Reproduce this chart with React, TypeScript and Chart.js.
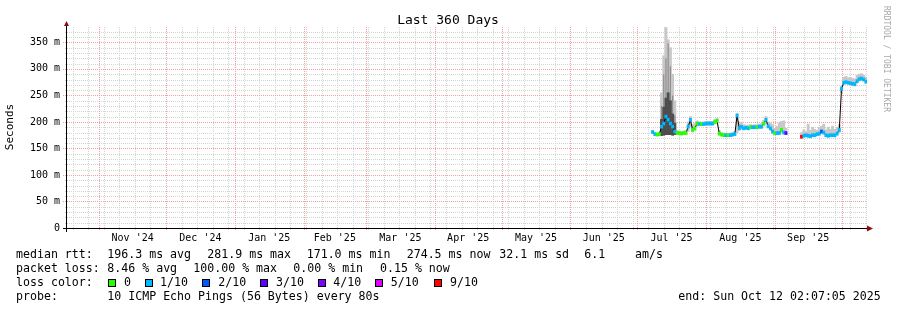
import React, { useEffect, useRef } from 'react';
import { Chart, registerables } from 'chart.js';

Chart.register(...registerables);

// ---------------- data ----------------
const TITLE = 'Last 360 Days';
const Y_TITLE = 'Seconds';
const CREDIT = 'RRDTOOL / TOBI OETIKER';

const END_TIME = '2025-10-12T11:17:00Z';
const SPAN_DAYS = 360;
const FIRST_DATA_DAY = '2025-07-08';

// daily median round-trip time (ms)
const medianMs = [
  181, 177, 176, 177, 191, 197, 210, 204, 197, 191,
  182, 179, 179, 178, 179, 179, 191, 204, 185, 188,
  197, 196, 196, 196, 197, 197, 197, 197, 200, 202,
  178, 176, 175, 175, 175, 175, 176, 177, 212, 188,
  191, 188, 189, 188, 190, 190, 190, 190, 191, 191,
  197, 204, 192, 188, 182, 179, 179, 179, 185, 180,
  179, null, null, null, null, null, null, 172, 174, 175,
  174, 173, 175, 175, 177, 178, 182, 180, 175, 174,
  175, 175, 175, 178, 185, 262, 274, 275, 274, 273,
  272, 271, 277, 281, 282, 280, 276,
];

// lost pings out of 10, per day
const lossCount = [
  1, 1, 0, 0, 1, 1, 1, 1, 1, 1,
  1, 0, 0, 0, 0, 0, 1, 1, 0, 0,
  0, 1, 0, 1, 1, 1, 1, 1, 0, 0,
  0, 0, 0, 1, 0, 1, 1, 1, 1, 1,
  1, 1, 1, 1, 0, 1, 1, 0, 1, 1,
  0, 1, 1, 1, 1, 0, 1, 1, 0, 1,
  3, null, null, null, null, null, null, 9, 1, 1,
  1, 1, 1, 1, 1, 1, 2, 1, 1, 1,
  1, 1, 1, 1, 1, 1, 1, 1, 1, 1,
  1, 1, 1, 1, 1, 1, 1,
];

// smoke: lowest and highest ping per day (ms)
const smokeLoMs = [
  179, 175, 174, 175, 174, 175, 176, 176, 176, 175,
  176, 177, 177, 176, 177, 177, 182, 190, 181, 184,
  192, 193, 193, 193, 194, 194, 194, 194, 196, 198,
  175, 174, 173, 173, 173, 173, 174, 175, 180, 184,
  186, 185, 186, 185, 187, 187, 187, 187, 188, 188,
  192, 196, 188, 184, 178, 176, 176, 176, 180, 177,
  176, null, null, null, null, null, null, 170, 171, 172,
  171, 170, 172, 172, 174, 175, 178, 177, 172, 171,
  172, 172, 172, 175, 180, 255, 271, 272, 271, 270,
  269, 268, 273, 277, 278, 277, 273,
];
const smokeHiMs = [
  184, 180, 179, 180, 255, 325, 378, 355, 340, 290,
  240, 184, 183, 182, 183, 184, 200, 210, 195, 198,
  202, 200, 200, 200, 201, 201, 201, 201, 205, 207,
  184, 180, 179, 179, 179, 179, 180, 182, 216, 200,
  198, 195, 194, 194, 195, 194, 195, 195, 196, 197,
  203, 210, 200, 198, 195, 188, 192, 198, 201, 202,
  188, null, null, null, null, null, null, 180, 185, 182,
  196, 184, 190, 186, 184, 190, 192, 196, 185, 190,
  186, 192, 186, 190, 195, 268, 284, 286, 283, 284,
  282, 281, 288, 290, 291, 288, 284,
];
// inner smoke layers during the July burst
const CORE_FIRST_DAY = '2025-07-12';
const smokeMidMs = [230, 290, 320, 348, 305, 250, 212];
const smokeDenseMs = [205, 228, 245, 255, 240, 215, 198];

const monthStarts = [
  '2024-11-01', '2024-12-01', '2025-01-01', '2025-02-01', '2025-03-01', '2025-04-01',
  '2025-05-01', '2025-06-01', '2025-07-01', '2025-08-01', '2025-09-01', '2025-10-01',
];
const monthLabels = ["Nov '24", "Dec '24", "Jan '25", "Feb '25", "Mar '25", "Apr '25", "May '25", "Jun '25", "Jul '25", "Aug '25", "Sep '25"];
const FIRST_WEEK_LINE = '2024-10-20';
const yTickValues = [0, 50, 100, 150, 200, 250, 300, 350];
const Y_MAX = 379;

const lossLegendLabels = ['0', '1/10', '2/10', '3/10', '4/10', '5/10', '9/10'];
const lossLegendCounts = [0, 1, 2, 3, 4, 5, 9];
const lossLegendColors = ['#26ff00', '#00b8ff', '#0059ff', '#5e00ff', '#7e00ff', '#dd00ff', '#ff0000'];

const rttStats = ['196.3 ms avg', '281.9 ms max', '171.0 ms min', '274.5 ms now', '32.1 ms sd', '6.1', 'am/s'];
const lossStats = ['8.46 % avg', '100.00 % max', '0.00 % min', '0.15 % now'];
const probeText = '10 ICMP Echo Pings (56 Bytes) every 80s';
const endText = 'end: Sun Oct 12 02:07:05 2025';

// ---------------- helpers ----------------
const FONT = '"DejaVu Sans Mono", monospace';
const ORIGIN_MS = Date.UTC(2024, 10, 1);
function dayOf(s: string): number {
  const t = Date.parse(s.length === 10 ? s + 'T00:00:00Z' : s);
  return (t - ORIGIN_MS) / 86400000;
}
function lossColor(c: number): string {
  let idx = 0;
  for (let i = 0; i < lossLegendCounts.length; i++) if (c >= lossLegendCounts[i]) idx = i;
  return lossLegendColors[idx];
}

const MINOR_GRID = '#d4d4d4';
const MAJOR_GRID = '#f2a0a0';
const ARROW = '#8a1010';

const decorPlugin = {
  id: 'decor',
  beforeDatasetsDraw(chart: any) {
    const { ctx, chartArea: a } = chart;
    const x = chart.scales.x;
    const y = chart.scales.y;
    const seg = (x1: number, y1: number, x2: number, y2: number) => {
      ctx.beginPath();
      ctx.moveTo(x1, y1);
      ctx.lineTo(x2, y2);
      ctx.stroke();
    };
    ctx.save();
    ctx.lineWidth = 1;
    ctx.setLineDash([1, 1]);
    ctx.strokeStyle = MINOR_GRID;
    for (let v = 10; v <= y.max; v += 10) {
      if (v % 50 === 0) continue;
      const py = Math.round(y.getPixelForValue(v)) + 0.5;
      seg(a.left - 2, py, a.right, py);
    }
    for (let d = dayOf(FIRST_WEEK_LINE); d <= x.max; d += 7) {
      if (d < x.min) continue;
      const px = Math.round(x.getPixelForValue(d)) + 0.5;
      seg(px, a.top, px, a.bottom + 2);
    }
    ctx.strokeStyle = MAJOR_GRID;
    for (let v = 50; v <= y.max; v += 50) {
      const py = Math.round(y.getPixelForValue(v)) + 0.5;
      seg(a.left - 4, py, a.right, py);
    }
    for (const m of monthStarts) {
      const d = dayOf(m);
      if (d < x.min || d > x.max) continue;
      const px = Math.round(x.getPixelForValue(d)) + 0.5;
      seg(px, a.top, px, a.bottom + 3);
    }
    ctx.restore();
  },
  afterDatasetsDraw(chart: any) {
    const { ctx, chartArea: a } = chart;
    ctx.save();
    ctx.setLineDash([]);
    ctx.lineWidth = 1;
    ctx.strokeStyle = '#000';
    ctx.beginPath();
    ctx.moveTo(a.left - 4, a.bottom + 0.5);
    ctx.lineTo(a.right, a.bottom + 0.5);
    ctx.moveTo(a.left - 0.5, a.bottom + 4);
    ctx.lineTo(a.left - 0.5, a.top - 1);
    ctx.stroke();
    ctx.fillStyle = ARROW;
    ctx.beginPath();
    ctx.moveTo(a.left - 3, a.top - 1);
    ctx.lineTo(a.left + 2, a.top - 1);
    ctx.lineTo(a.left - 0.5, a.top - 6);
    ctx.closePath();
    ctx.fill();
    ctx.beginPath();
    ctx.moveTo(a.right, a.bottom - 2.5);
    ctx.lineTo(a.right, a.bottom + 3.5);
    ctx.lineTo(a.right + 6, a.bottom + 0.5);
    ctx.closePath();
    ctx.fill();
    ctx.restore();
  },
  afterDraw(chart: any) {
    const { ctx } = chart;
    ctx.save();
    ctx.fillStyle = '#000';
    ctx.textBaseline = 'alphabetic';
    // title
    ctx.font = `13px ${FONT}`;
    ctx.textAlign = 'center';
    ctx.fillText(TITLE, 448, 24);
    // y title
    ctx.save();
    ctx.translate(10, 127);
    ctx.rotate(-Math.PI / 2);
    ctx.font = `11px ${FONT}`;
    ctx.textBaseline = 'middle';
    ctx.fillText(Y_TITLE, 0, 0);
    ctx.restore();
    // credit
    ctx.save();
    ctx.translate(886, 59);
    ctx.rotate(Math.PI / 2);
    ctx.font = `8px ${FONT}`;
    ctx.fillStyle = '#a8a8a8';
    ctx.textBaseline = 'middle';
    ctx.fillText(CREDIT, 0, 0);
    ctx.restore();
    // legend
    ctx.textAlign = 'left';
    ctx.font = `11.6px ${FONT}`;
    ctx.fillText('median rtt:', 16, 258);
    const rttX = [107.3, 207.3, 306.7, 406.7, 499.3, 584.3, 635];
    rttStats.forEach((t, i) => ctx.fillText(t, rttX[i], 258));
    ctx.fillText('packet loss:', 16, 272);
    const lossX = [107.3, 193.3, 293.3, 380];
    lossStats.forEach((t, i) => ctx.fillText(t, lossX[i], 272));
    ctx.fillText('loss color:', 16, 286);
    const boxX = [108.5, 145.5, 202.5, 260.5, 318.5, 375.5, 434.5];
    const labX = [124, 160, 218.3, 276, 333.3, 390.7, 450];
    lossLegendLabels.forEach((t, i) => {
      ctx.fillStyle = lossLegendColors[i];
      ctx.fillRect(boxX[i], 279.5, 7, 7);
      ctx.strokeStyle = '#000';
      ctx.lineWidth = 1;
      ctx.strokeRect(boxX[i], 279.5, 7, 7);
      ctx.fillStyle = '#000';
      ctx.fillText(t, labX[i], 286);
    });
    ctx.fillText('probe:', 16, 300);
    ctx.fillText(probeText, 107.3, 300);
    ctx.fillText(endText, 678.3, 300);
    ctx.restore();
  },
};

export default function App() {
  const ref = useRef<HTMLCanvasElement>(null);
  useEffect(() => {
    const canvas = ref.current;
    if (!canvas) return;
    const xMax = dayOf(END_TIME);
    const xMin = xMax - SPAN_DAYS;
    const d0 = dayOf(FIRST_DATA_DAY);
    const xs = medianMs.map((_, i) => d0 + i);

    const smokeData: any[] = [];
    xs.forEach((x, i) => {
      const lo = smokeLoMs[i];
      const hi = smokeHiMs[i];
      if (lo != null && hi != null) smokeData.push({ x, y: [lo, hi] });
    });
    const c0 = dayOf(CORE_FIRST_DAY);
    const layer = (arr: number[]) =>
      arr.map((hi, i) => {
        const idx = Math.round(c0 + i - d0);
        return { x: c0 + i, y: [smokeLoMs[idx] as number, hi] };
      });
    const midData = layer(smokeMidMs);
    const denseData = layer(smokeDenseMs);
    const lineData = xs.map((x, i) => ({ x, y: medianMs[i] }));
    const markData: any[] = [];
    xs.forEach((x, i) => {
      const m = medianMs[i];
      const c = lossCount[i];
      if (m != null && c != null) markData.push({ x, y: [m - 2.8, m + 2.8], c });
    });
    const labelDays = monthLabels.map((_, i) => (dayOf(monthStarts[i]) + dayOf(monthStarts[i + 1])) / 2);

    const barBase = { borderWidth: 0, grouped: false, barPercentage: 1, categoryPercentage: 1 };

    const chart = new Chart(canvas, {
      type: 'bar',
      data: {
        datasets: [
          {
            type: 'bar',
            label: 'loss',
            data: markData,
            backgroundColor: (c: any) => lossColor(c.raw ? c.raw.c : 0),
            ...barBase,
            order: 0,
          } as any,
          {
            type: 'line',
            label: 'median',
            data: lineData,
            borderColor: '#000',
            borderWidth: 1,
            pointRadius: 0,
            spanGaps: false,
            order: 1,
          } as any,
          {
            type: 'bar',
            label: 'dense',
            data: denseData,
            backgroundColor: '#4e4e4e',
            ...barBase,
            order: 2,
          } as any,
          {
            type: 'bar',
            label: 'mid',
            data: midData,
            backgroundColor: '#8e8e8e',
            ...barBase,
            barPercentage: 0.55,
            order: 3,
          } as any,
          {
            type: 'bar',
            label: 'smoke',
            data: smokeData,
            backgroundColor: '#c8c8c8',
            ...barBase,
            order: 4,
          } as any,
        ],
      },
      options: {
        animation: false,
        responsive: false,
        devicePixelRatio: 1,
        layout: { padding: { top: 27, right: 30, left: 0, bottom: 0 } },
        plugins: { legend: { display: false }, title: { display: false }, tooltip: { enabled: false } },
        scales: {
          x: {
            type: 'linear',
            offset: false,
            min: xMin,
            max: xMax,
            grid: { display: false, drawTicks: false, offset: false },
            border: { display: false },
            afterBuildTicks: (s: any) => {
              s.ticks = labelDays.map((v) => ({ value: v }));
            },
            afterFit: (s: any) => {
              s.height = 82;
            },
            ticks: {
              autoSkip: false,
              maxRotation: 0,
              padding: 4,
              color: '#000',
              font: { family: 'DejaVu Sans Mono', size: 10 },
              callback: (_v: any, i: number) => monthLabels[i],
            },
          },
          y: {
            type: 'linear',
            min: 0,
            max: Y_MAX,
            grid: { display: false, drawTicks: false },
            border: { display: false },
            afterBuildTicks: (s: any) => {
              s.ticks = yTickValues.map((v) => ({ value: v }));
            },
            afterFit: (s: any) => {
              s.width = 67;
            },
            ticks: {
              padding: 7,
              color: '#000',
              font: { family: 'DejaVu Sans Mono', size: 10 },
              callback: (v: any) => (v === 0 ? '0' : `${v} m`),
            },
          },
        },
      } as any,
      plugins: [decorPlugin],
    });
    return () => chart.destroy();
  }, []);

  return (
    <div style={{ position: 'absolute', left: 0, top: 0, width: 897, height: 310, background: '#fff' }}>
      <canvas ref={ref} width={897} height={310} style={{ width: 897, height: 310, display: 'block' }} />
    </div>
  );
}
